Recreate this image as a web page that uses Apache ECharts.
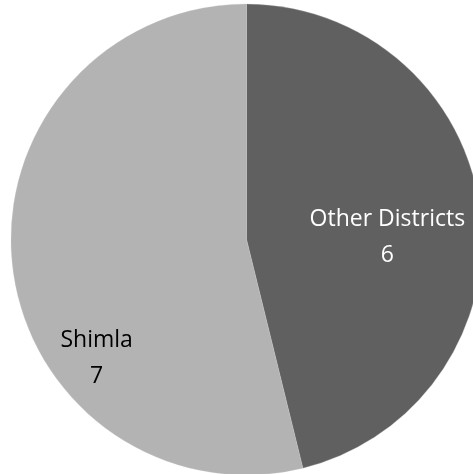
<!DOCTYPE html>
<html><head><meta charset="utf-8">
<script src="https://cdn.jsdelivr.net/npm/echarts@6/dist/echarts.min.js"></script>
<style>html,body{margin:0;padding:0;background:#fff}#c{width:473px;height:474px}</style>
</head><body><div id="c"></div>
<script>
const categories = ['Other Districts', 'Shimla'];
const values = [6, 7];
const colors = ['#606060', '#b3b3b3'];
const labelColors = ['#ffffff', '#000000'];
const labelShift = [[21, 13], [-30, 104]];

const chart = echarts.init(document.getElementById('c'), null, {renderer: 'canvas'});
chart.setOption({
  animation: false,
  series: [{
    type: 'pie',
    center: [246.5, 239.5],
    radius: 235.5,
    startAngle: 90,
    clockwise: true,
    silent: true,
    data: categories.map((n, i) => ({
      name: n, value: values[i],
      itemStyle: {color: colors[i]},
      label: {color: labelColors[i]}
    })),
    itemStyle: {borderColor: '#c8c8c8', borderWidth: 0.3},
    label: {
      show: true,
      position: 'inside',
      formatter: '{b}\n{c}',
      fontFamily: 'Open Sans',
      fontSize: 23,
      lineHeight: 36,
      align: 'center'
    },
    labelLine: {show: false},
    labelLayout: function (p) {
      return {dx: labelShift[p.dataIndex][0], dy: labelShift[p.dataIndex][1]};
    }
  }]
});
</script></body></html>
